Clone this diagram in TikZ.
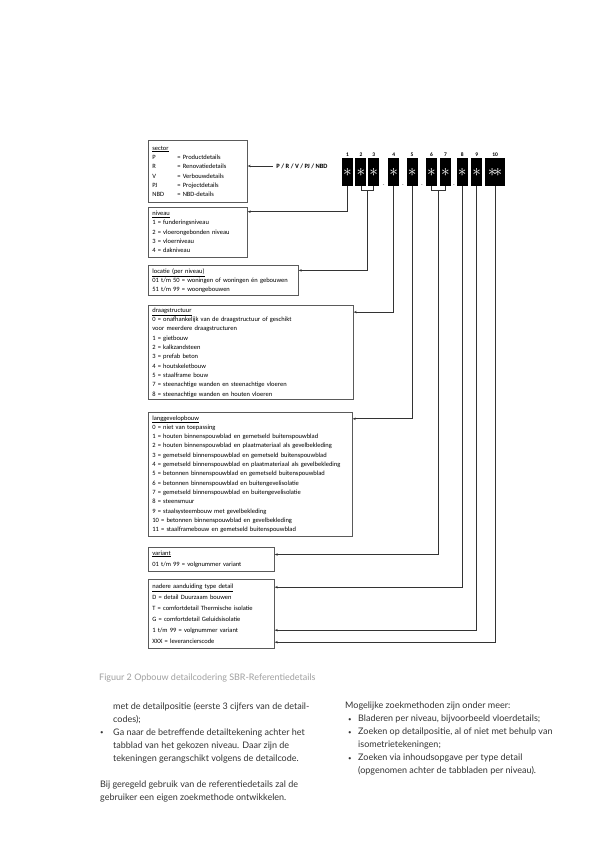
\documentclass[tikz,border=0pt]{standalone}
\usepackage{fontspec}
\setmainfont{Carlito}
\newfontfamily\bodyfont{Lato}
\usetikzlibrary{arrows.meta, positioning, calc}
\definecolor{linegray}{HTML}{333333}
\definecolor{boxgray}{HTML}{5A5A5A}
\definecolor{textgray}{HTML}{333333}
\definecolor{capgray}{HTML}{A0A0A0}
\newcommand{\smallbullet}{\raisebox{0.6pt}{\fontsize{6}{6}\selectfont\textbullet}}

\begin{document}
\begin{tikzpicture}[
    x=1pt, y=-1pt,
    every node/.style={font=\fontsize{6.5}{9.3}\selectfont},
    infobox/.style={rectangle, draw=boxgray, line width=0.7pt, align=left,
                    inner xsep=4pt, inner ysep=0pt},
    wide/.style={font=\fontsize{6.5}{11}\selectfont},
    codebox/.style={rectangle, fill=black, text=white, minimum width=11pt,
                    minimum height=28pt, inner sep=0pt, font=\fontsize{18}{18}\selectfont},
    numlbl/.style={font=\fontsize{5.5}{6}\selectfont\bfseries, inner sep=1pt, text=black},
    dashlbl/.style={font=\fontsize{5}{5}\selectfont, inner sep=0pt, anchor=south},
    arr/.style={-{Stealth[length=3pt, width=2.4pt]}, draw=linegray, line width=0.7pt},
    conn/.style={draw=linegray, line width=0.7pt},
    body/.style={font=\bodyfont\fontsize{9}{13}\selectfont, text=textgray,
                 align=left, anchor=north west, inner sep=0pt}
]
    \path[use as bounding box, fill=white] (0,0) rectangle (595,841);

    % code boxes
    \node[codebox, label={[numlbl]above:1}] (c1) at (347.5,172) {$\ast$};
    \node[codebox, right=2pt of c1, label={[numlbl]above:2}] (c2) {$\ast$};
    \node[codebox, right=1.5pt of c2, label={[numlbl]above:3}] (c3) {$\ast$};
    \node[codebox, right=8.5pt of c3, label={[numlbl]above:4}] (c4) {$\ast$};
    \node[codebox, right=7pt of c4, label={[numlbl]above:5}] (c5) {$\ast$};
    \node[codebox, right=8pt of c5, label={[numlbl]above:6}] (c6) {$\ast$};
    \node[codebox, right=2.5pt of c6, label={[numlbl]above:7}] (c7) {$\ast$};
    \node[codebox, right=5.5pt of c7, label={[numlbl]above:8}] (c8) {$\ast$};
    \node[codebox, right=3pt of c8, label={[numlbl]above:9}] (c9) {$\ast$};
    \node[codebox, right=2.5pt of c9, minimum width=20pt, label={[numlbl]above:10}] (c10) {$\ast\!\ast$};

    \node[dashlbl] (d34) at ($(c3.south east)!0.5!(c4.south west)$) {-};
    \node[dashlbl] (d45) at ($(c4.south east)!0.5!(c5.south west)$) {-};
    \node[dashlbl] (d56) at ($(c5.south east)!0.5!(c6.south west)$) {-};
    \node[dashlbl] (d78) at ($(c7.south east)!0.5!(c8.south west)$) {-};

    % legend boxes
    \node[infobox, anchor=north west, text width=91pt, minimum height=62pt] (sector) at (148,140)
        {\underline{sector}\\
         \makebox[25pt][l]{P}= Productdetails\\
         \makebox[25pt][l]{R}= Renovatiedetails\\
         \makebox[25pt][l]{V}= Verbouwdetails\\
         \makebox[25pt][l]{PJ}= Projectdetails\\
         \makebox[25pt][l]{NBD}= NBD-details};
    \node[infobox, below=4pt of sector.south west, anchor=north west,
          text width=91pt, minimum height=50pt] (niveau)
        {\underline{niveau}\\
         1 = funderingsniveau\\
         2 = vloerongebonden niveau\\
         3 = vloerniveau\\
         4 = dakniveau};
    \node[infobox, below=8pt of niveau.south west, anchor=north west,
          text width=142pt, minimum height=30pt] (locatie)
        {\underline{locatie (per niveau)}\\
         01 t/m 50 = woningen of woningen én gebouwen\\
         51 t/m 99 = woongebouwen};
    \node[infobox, below=9pt of locatie.south west, anchor=north west,
          text width=197pt, minimum height=94pt] (draag)
        {\underline{draagstructuur}\\
         0 = onafhankelijk van de draagstructuur of geschikt\\
         voor meerdere draagstructuren\\
         1 = gietbouw\\
         2 = kalkzandsteen\\
         3 = prefab beton\\
         4 = houtskeletbouw\\
         5 = staalframe bouw\\
         7 = steenachtige wanden en steenachtige vloeren\\
         8 = steenachtige wanden en houten vloeren};
    \node[infobox, below=12pt of draag.south west, anchor=north west,
          text width=196pt, minimum height=124pt] (lang)
        {\underline{langgevelopbouw}\\
         0 = niet van toepassing\\
         1 = houten binnenspouwblad en gemetseld buitenspouwblad\\
         2 = houten binnenspouwblad en plaatmateriaal als gevelbekleding\\
         3 = gemetseld binnenspouwblad en gemetseld buitenspouwblad\\
         4 = gemetseld binnenspouwblad en plaatmateriaal als gevelbekleding\\
         5 = betonnen binnenspouwblad en gemetseld buitenspouwblad\\
         6 = betonnen binnenspouwblad en buitengevelisolatie\\
         7 = gemetseld binnenspouwblad en buitengevelisolatie\\
         8 = steensmuur\\
         9 = staalsysteembouw met gevelbekleding\\
         10 = betonnen binnenspouwblad en gevelbekleding\\
         11 = staalframebouw en gemetseld buitenspouwblad};
    \node[infobox, wide, below=10pt of lang.south west, anchor=north west,
          text width=118pt, minimum height=24pt] (variant)
        {\underline{variant}\\
         01 t/m 99 = volgnummer variant};
    \node[infobox, wide, below=8pt of variant.south west, anchor=north west,
          text width=118pt, minimum height=69pt] (nadere)
        {\underline{nadere aanduiding type detail}\\
         D = detail Duurzaam bouwen\\
         T = comfortdetail Thermische isolatie\\
         G = comfortdetail Geluidsisolatie\\
         1 t/m 99 = volgnummer variant\\
         XXX = leverancierscode};

    \node[font=\fontsize{6.5}{7}\selectfont\bfseries] (sectlbl) at (302,166) {P / R / V / PJ / NBD};

    % connectors
    \draw[arr] (sectlbl.west) -- (sectlbl.west -| sector.east);
    \draw[arr] (c1.south) |- ([yshift=-5pt]niveau.north east);
    \draw[conn] (c2.south) -- ++(0,4) -| (c3.south);
    \coordinate (b23) at ($(c2.south)!0.5!(c3.south)+(0,4)$);
    \draw[arr] (b23) |- ([yshift=-5pt]locatie.north east);
    \draw[arr] (c4.south) |- ([yshift=-7pt]draag.north east);
    \draw[arr] (c5.south) |- ([yshift=-7pt]lang.north east);
    \draw[conn] (c6.south) -- ++(0,4) -| (c7.south);
    \coordinate (b67) at ($(c6.south)!0.5!(c7.south)+(0,4)$);
    \draw[arr] (b67) |- ([yshift=-8pt]variant.north east);
    \draw[arr] (c8.south) |- ([yshift=-8pt]nadere.north east);
    \draw[arr] (c9.south) |- ([yshift=-51pt]nadere.north east);
    \draw[arr] (c10.south) |- ([yshift=-63pt]nadere.north east);

    % caption and text
    \node[font=\bodyfont\fontsize{9}{10}\selectfont, text=capgray, anchor=west, inner sep=0pt]
        (caption) at (99,678) {Figuur 2 Opbouw detailcodering SBR-Referentiedetails};
    \node[body] (colleft) at (100,702)
        {\hspace*{13pt}met de detailpositie (eerste 3 cijfers van de detail-\\
         \hspace*{13pt}codes);\\
         \makebox[13pt][l]{\smallbullet}Ga naar de betreffende detailtekening achter het\\
         \hspace*{13pt}tabblad van het gekozen niveau. Daar zijn de\\
         \hspace*{13pt}tekeningen gerangschikt volgens de detailcode.\\[13pt]
         Bij geregeld gebruik van de referentiedetails zal de\\
         gebruiker een eigen zoekmethode ontwikkelen.};
    \node[body] (colright) at (345,702)
        {Mogelijke zoekmethoden zijn onder meer:\\
         \makebox[13pt][l]{\hspace*{3pt}\smallbullet}Bladeren per niveau, bijvoorbeeld vloerdetails;\\
         \makebox[13pt][l]{\hspace*{3pt}\smallbullet}Zoeken op detailpositie, al of niet met behulp van\\
         \hspace*{13pt}isometrietekeningen;\\
         \makebox[13pt][l]{\hspace*{3pt}\smallbullet}Zoeken via inhoudsopgave per type detail\\
         \hspace*{13pt}(opgenomen achter de tabbladen per niveau).};
\end{tikzpicture}
\end{document}
